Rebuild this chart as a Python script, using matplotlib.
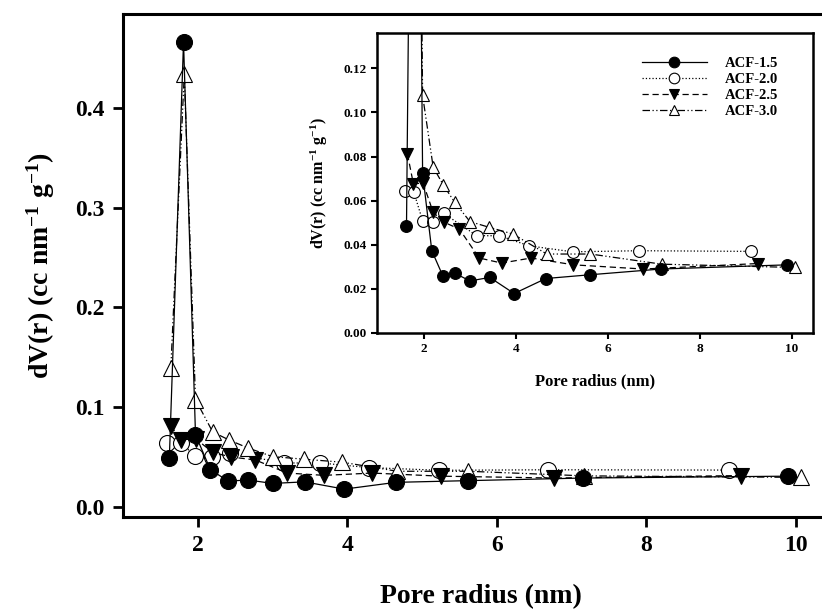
import matplotlib
matplotlib.use("Agg")
import matplotlib.pyplot as plt

plt.rcParams['font.family'] = ['Liberation Serif', 'DejaVu Serif']
plt.rcParams['font.weight'] = 'bold'
plt.rcParams['mathtext.fontset'] = 'custom'
plt.rcParams['mathtext.rm'] = 'Liberation Serif:bold'
plt.rcParams['mathtext.bf'] = 'Liberation Serif:bold'
plt.rcParams['mathtext.it'] = 'Liberation Serif:bold'

# pore size distribution data
x15 = [1.62, 1.81, 1.97, 2.17, 2.41, 2.67, 3.00, 3.43, 3.96, 4.65, 5.61, 7.15, 9.90]
y15 = [0.0486, 0.466, 0.0724, 0.0373, 0.0259, 0.0271, 0.0236, 0.0252, 0.0179, 0.0247, 0.0264, 0.0290, 0.0309]

x20 = [1.59, 1.78, 1.97, 2.19, 2.43, 3.15, 3.64, 4.29, 5.23, 6.68, 9.10]
y20 = [0.0642, 0.0638, 0.0509, 0.0505, 0.0542, 0.0441, 0.0441, 0.0395, 0.0368, 0.0373, 0.0370]

x25 = [1.64, 1.77, 1.98, 2.20, 2.44, 2.77, 3.20, 3.69, 4.33, 5.25, 6.77, 9.27]
y25 = [0.0812, 0.0676, 0.0680, 0.0547, 0.0502, 0.0471, 0.0340, 0.0317, 0.0340, 0.0309, 0.0290, 0.0315]

x30 = [1.64, 1.82, 1.97, 2.20, 2.42, 2.67, 3.00, 3.42, 3.93, 4.67, 5.62, 7.17, 10.07]
y30 = [0.139, 0.434, 0.1077, 0.0752, 0.0671, 0.0592, 0.0505, 0.0479, 0.0449, 0.0358, 0.0358, 0.0312, 0.0297]

labels = ['ACF-1.5', 'ACF-2.0', 'ACF-2.5', 'ACF-3.0']
ylab = r'dV(r) (cc nm$^{-1}$ g$^{-1}$)'


def draw_series(ax, ms):
    kw = dict(color='black', lw=0.9, markeredgecolor='black', markeredgewidth=0.8)
    ax.plot(x20, y20, ls=':', marker='o', ms=ms, markerfacecolor='white', label=labels[1], zorder=2, **kw)
    ax.plot(x25, y25, ls=(0, (5, 3)), marker='v', ms=ms, markerfacecolor='black', label=labels[2], zorder=3, **kw)
    ax.plot(x30, y30, ls=(0, (6, 2, 1, 2, 1, 2)), marker='^', ms=ms, markerfacecolor='white', label=labels[3], zorder=4, **kw)
    ax.plot(x15, y15, ls='-', marker='o', ms=ms, markerfacecolor='black', label=labels[0], zorder=5, **kw)


fig = plt.figure(figsize=(8.22, 6.10), dpi=100)

# main axes
ax = fig.add_axes([0.1496, 0.1525, 0.855, 0.8246])
draw_series(ax, 11.5)
ax.set_xlim(1.0, 10.4)
ax.set_ylim(-0.01, 0.494)
ax.set_xticks([2, 4, 6, 8, 10])
ax.set_yticks([0.0, 0.1, 0.2, 0.3, 0.4])
ax.set_yticklabels(['0.0', '0.1', '0.2', '0.3', '0.4'])
for s in ['left', 'bottom', 'top', 'right']:
    ax.spines[s].set_linewidth(2.2)
ax.tick_params(direction='out', length=7, width=2, labelsize=17, pad=6, top=False, right=False)
ax.set_xlabel('Pore radius (nm)', fontsize=20, fontweight='bold')
ax.set_ylabel(ylab, fontsize=20, fontweight='bold')
ax.xaxis.set_label_coords(0.51, -0.133)
ax.yaxis.set_label_coords(-0.094, 0.5)

# inset
axi = fig.add_axes([0.4586, 0.4541, 0.5304, 0.4918])
axi.set_facecolor('white')
draw_series(axi, 8.5)
axi.set_xlim(0.978, 10.457)
axi.set_ylim(0.0, 0.136)
axi.set_xticks([2, 4, 6, 8, 10])
axi.set_yticks([0.0, 0.02, 0.04, 0.06, 0.08, 0.10, 0.12])
axi.set_yticklabels(['0.00', '0.02', '0.04', '0.06', '0.08', '0.10', '0.12'])
for s in ['left', 'bottom', 'top', 'right']:
    axi.spines[s].set_linewidth(1.8)
axi.tick_params(direction='out', length=4, width=1.5, labelsize=9.5, pad=3, top=False, right=False)
axi.set_xlabel('Pore radius (nm)', fontsize=12, fontweight='bold')
axi.set_ylabel(ylab, fontsize=11.5, fontweight='bold')
axi.xaxis.set_label_coords(0.5, -0.135)
axi.yaxis.set_label_coords(-0.108, 0.5)

h, l = axi.get_legend_handles_labels()
order = [3, 0, 1, 2]
leg = axi.legend([h[i] for i in order], [l[i] for i in order], loc='upper right',
                 bbox_to_anchor=(0.95, 0.965), frameon=False, fontsize=10.5,
                 handlelength=4.5, handletextpad=1.2, labelspacing=0.2, markerscale=0.9)

fig.savefig('out.png', dpi=100)
